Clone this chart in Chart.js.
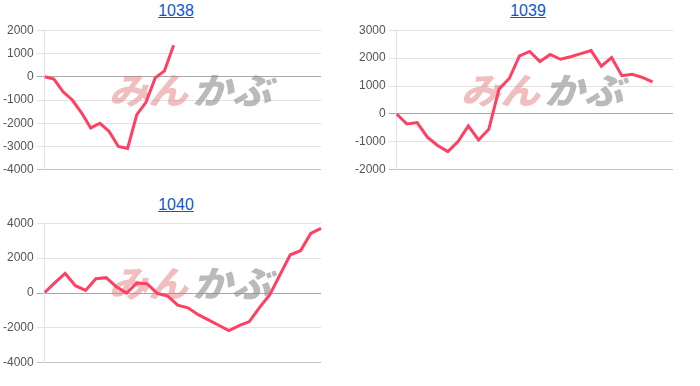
<!DOCTYPE html>
<html>
<head>
<meta charset="utf-8">
<script src="https://cdn.jsdelivr.net/npm/chart.js@4.4.0/dist/chart.umd.min.js"></script>
<style>
  body { margin: 0; background: #fff; overflow: hidden; width: 700px; height: 386px; position: relative; }
  .cell { position: absolute; width: 352px; }
  .ttl { position: absolute; left: 0; width: 352px; text-align: center; font: 16px Arial, "Liberation Sans", sans-serif; line-height: 18px; }
  .ttl a { color: #1155cc; text-decoration: underline; }
  canvas { position: absolute; left: 0; }
</style>
</head>
<body>
<div class="cell" style="left:0;top:0"><div class="ttl" style="top:2px"><a href="#">1038</a></div><canvas id="c1038" width="352" height="160" style="top:20px"></canvas></div>
<div class="cell" style="left:352px;top:0"><div class="ttl" style="top:2px"><a href="#">1039</a></div><canvas id="c1039" width="352" height="160" style="top:20px"></canvas></div>
<div class="cell" style="left:0;top:192px"><div class="ttl" style="top:4px"><a href="#">1040</a></div><canvas id="c1040" width="352" height="160" style="top:21px"></canvas></div>
<script>
// x slots (labels are hidden on the chart)
var labels1038 = ['1','2','3','4','5','6','7','8','9','10','11','12','13','14','15','16','17','18','19','20','21','22','23','24','25','26','27','28','29','30','31'];
var labels28 = ['1','2','3','4','5','6','7','8','9','10','11','12','13','14','15','16','17','18','19','20','21','22','23','24','25','26','27','28'];

var values1038 = [0, -100, -650, -1000, -1550, -2200, -2000, -2350, -3000, -3080, -1630, -1100, -50, 250, 1350];
var values1039 = [0, -360, -310, -830, -1130, -1350, -990, -430, -930, -550, 890, 1270, 2080, 2240, 1880, 2130, 1960, 2050, 2160, 2270, 1710, 2020, 1370, 1420, 1310, 1150];
var values1040 = [30, 590, 1120, 420, 150, 820, 880, 360, 0, 570, 530, -20, -170, -700, -850, -1240, -1540, -1850, -2150, -1870, -1640, -820, -100, 1050, 2190, 2420, 3410, 3700];

var LINE = 'rgb(255, 64, 98)';

// watermark (approximation of the logo image behind the plot)
var watermark = {
    id: 'watermark',
    beforeDatasetsDraw: function (chart) {
        var c = chart.ctx, a = chart.chartArea;
        c.save();
        c.translate(a.left + 64, a.top + 74);
        c.scale(1.1, 1);
        c.font = 'italic 900 36px "Noto Sans CJK JP"';
        c.textBaseline = 'alphabetic';
        c.fillStyle = 'rgba(222, 110, 110, 0.45)';
        c.fillText('みん', 0, 0);
        c.fillStyle = 'rgba(140, 140, 140, 0.6)';
        c.fillText('かぶ', 76, 0);
        c.restore();
    }
};

function makeChart(id, labels, values, min, max, step) {
    return new Chart(document.getElementById(id), {
        type: 'line',
        data: {
            labels: labels,
            datasets: [{
                data: values,
                borderColor: LINE,
                borderWidth: 3,
                pointRadius: 0,
                tension: 0,
                fill: false
            }]
        },
        options: {
            responsive: false,
            animation: false,
            devicePixelRatio: 1,
            layout: { padding: { left: 0, right: 31, top: 0, bottom: 0 } },
            plugins: { legend: { display: false }, tooltip: { enabled: false } },
            scales: {
                x: { display: false },
                y: {
                    min: min, max: max,
                    ticks: {
                        stepSize: step, color: '#555', font: { size: 12 },
                        callback: function (v) { return String(v); }
                    },
                    border: { color: '#e3e3e3' },
                    grid: {
                        color: function (ctx) {
                            if (ctx.tick && ctx.tick.value === 0) return '#a8a8a8';
                            if (ctx.index === 0) return '#c4c4c4';
                            return '#e3e3e3';
                        }
                    }
                }
            }
        },
        plugins: [watermark]
    });
}

makeChart('c1038', labels1038, values1038, -4000, 2000, 1000);
makeChart('c1039', labels28, values1039, -2000, 3000, 1000);
makeChart('c1040', labels28, values1040, -4000, 4000, 2000);
</script>
</body>
</html>
